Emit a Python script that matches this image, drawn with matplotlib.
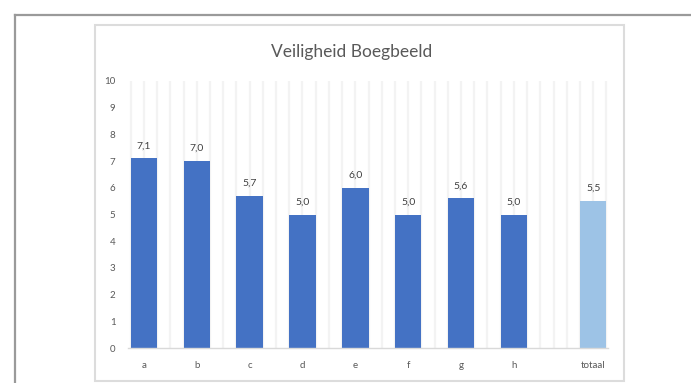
import matplotlib.pyplot as plt
from matplotlib.lines import Line2D
from matplotlib.patches import Rectangle
import numpy as np

plt.rcParams['font.family'] = ['Lato', 'DejaVu Sans']

# data
categories = ['a', 'b', 'c', 'd', 'e', 'f', 'g', 'h']
values = [7.1, 7.0, 5.7, 5.0, 6.0, 5.0, 5.6, 5.0]
total_label = 'totaal'
total_value = 5.5
title = 'Veiligheid Boegbeeld'

W, H = 691, 383
fig = plt.figure(figsize=(W / 100, H / 100), dpi=100)

def px(x, y):
    # pixel coords (top-left origin) -> figure fraction
    return x / W, 1 - y / H

# outer frame (only top and left visible)
fig.add_artist(Line2D([15 / W, 15 / W], [0, 1 - 15 / H], color='#9a9a9a', lw=1.6))
fig.add_artist(Line2D([15 / W, 1], [1 - 15 / H, 1 - 15 / H], color='#9a9a9a', lw=1.6))

# chart area border
x0, y0 = px(95, 381)
x1, y1 = px(624, 25)
fig.add_artist(Rectangle((x0, y0), x1 - x0, y1 - y0, transform=fig.transFigure,
                         fill=False, edgecolor='#dcdcdc', lw=1.5))

left, bottom = px(128, 348)
right, top = px(608, 81)
ax = fig.add_axes([left, bottom, right - left, top - bottom])

xpos = np.arange(len(categories))
total_pos = len(categories) + 0.5

# faint vertical gridlines every quarter category
for gx in np.arange(-0.25, total_pos + 0.3, 0.25):
    ax.axvline(gx, color='#f3f3f3', lw=1.6, zorder=0)

ax.bar(xpos, values, width=0.5, color='#4472C4', zorder=2)
ax.bar([total_pos], [total_value], width=0.5, color='#9DC3E6', zorder=2)

for x, v in zip(list(xpos) + [total_pos], values + [total_value]):
    ax.text(x, v + 0.3, f'{v:.1f}'.replace('.', ','), ha='center', va='bottom',
            fontsize=7.5, color='#404040')

ax.set_xlim(-0.3, total_pos + 0.28)
ax.set_ylim(0, 10)
ax.set_yticks(range(0, 11))
ax.set_xticks(list(xpos) + [total_pos])
ax.set_xticklabels(categories + [total_label])
ax.tick_params(axis='both', length=0, labelsize=7, colors='#595959')
ax.tick_params(axis='x', pad=9)
ax.tick_params(axis='y', pad=9)

for s in ['top', 'right', 'left']:
    ax.spines[s].set_visible(False)
ax.spines['bottom'].set_color('#d9d9d9')
ax.spines['bottom'].set_linewidth(1.0)

tx, ty = px(352, 52)
fig.text(tx, ty, title, ha='center', va='center', fontsize=12.5, color='#595959')

fig.savefig('out.png', dpi=100)
